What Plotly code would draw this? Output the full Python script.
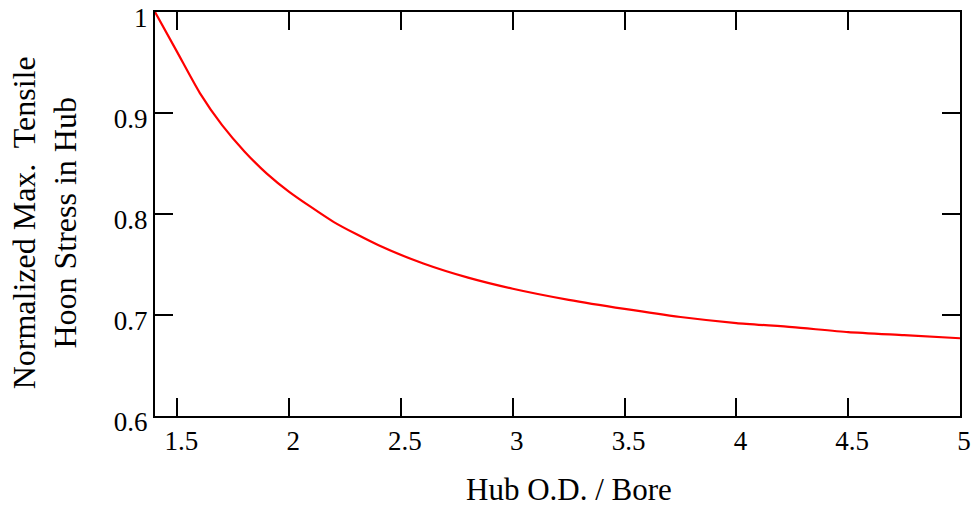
import plotly.graph_objects as go

# Hub O.D. / bore ratio and the normalized maximum tensile hoop stress in the hub
od_bore_ratio = [1.4, 1.5, 1.6, 1.7, 1.8, 1.9, 2.0, 2.2, 2.4, 2.6, 2.8, 3.0,
                 3.25, 3.5, 3.75, 4.0, 4.25, 4.5, 4.75, 5.0]
hoop_stress = [1.000, 0.960, 0.920, 0.888, 0.862, 0.840, 0.822, 0.792, 0.769,
               0.751, 0.737, 0.726, 0.715, 0.706, 0.698, 0.692, 0.688, 0.683,
               0.680, 0.677]

x_ticks = [1.5, 2, 2.5, 3, 3.5, 4, 4.5, 5]
x_tick_text = ["1.5", "2", "2.5", "3", "3.5", "4", "4.5", "5"]
y_ticks = [0.6, 0.7, 0.8, 0.9, 1.0]
y_tick_text = ["0.6", "0.7", "0.8", "0.9", "1"]

FONT = "Liberation Serif, Times New Roman, serif"

fig = go.Figure()
fig.add_trace(go.Scatter(
    x=od_bore_ratio, y=hoop_stress, mode="lines",
    line=dict(color="#ff0000", width=2.2, shape="spline", smoothing=0.6),
    showlegend=False, hoverinfo="x+y",
))

axis_common = dict(
    showline=True, linecolor="black", linewidth=2, mirror="ticks",
    ticks="inside", ticklen=18, tickwidth=2, tickcolor="black",
    showgrid=False, zeroline=False, automargin=False,
    ticklabeloverflow="allow",
    tickfont=dict(family=FONT, size=27, color="black"),
)

fig.update_xaxes(range=[1.4, 5], tickvals=x_ticks, ticktext=x_tick_text,
                 ticklabelshift=4, **axis_common)
fig.update_yaxes(range=[0.6, 1.0], tickvals=y_ticks, ticktext=y_tick_text,
                 ticklabelshift=6, **axis_common)

fig.add_annotation(
    text="Hub O.D. / Bore", xref="paper", yref="paper",
    x=0.5145, y=-0.183, xanchor="center", yanchor="middle", showarrow=False,
    font=dict(family=FONT, size=31, color="black"),
)
fig.add_annotation(
    text="Normalized Max.\u00a0 Tensile<br>Hoon Stress in Hub",
    xref="paper", yref="paper", x=-0.1373, y=0.478,
    xanchor="center", yanchor="middle", textangle=-90, showarrow=False,
    font=dict(family=FONT, size=32, color="black"),
)

fig.update_layout(
    width=972, height=508,
    margin=dict(l=155, r=12, t=12, b=92),
    paper_bgcolor="white", plot_bgcolor="white",
)

fig.write_html("out.html")
